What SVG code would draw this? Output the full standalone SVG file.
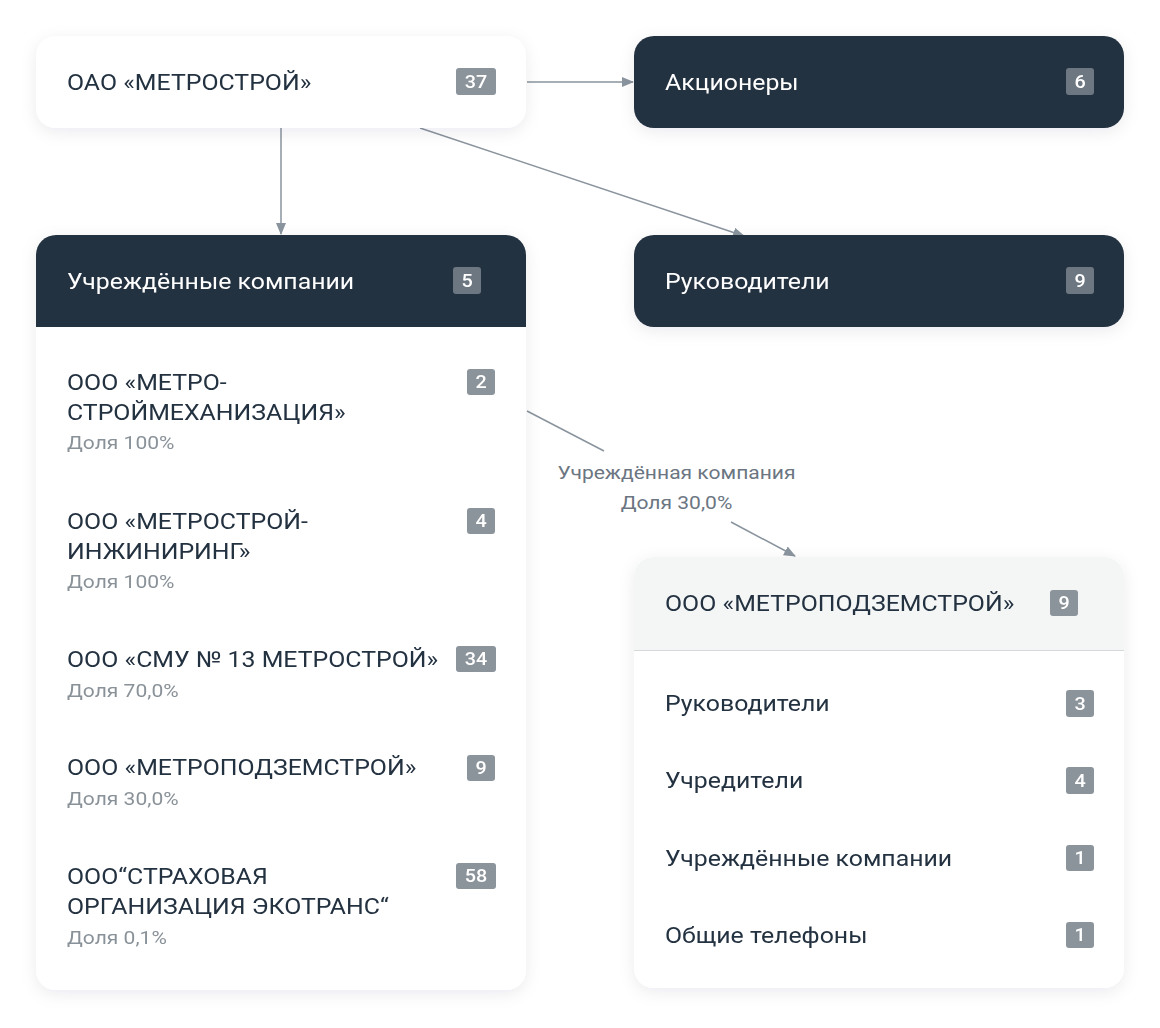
<svg xmlns="http://www.w3.org/2000/svg" width="1160" height="1028" viewBox="0 0 1160 1028">
<defs>
<filter id="sh" x="-10%" y="-10%" width="120%" height="130%">
<feDropShadow dx="0" dy="4" stdDeviation="8" flood-color="#1c2a3a" flood-opacity="0.08"/>
</filter>
<marker id="ar" markerWidth="12" markerHeight="10" refX="11" refY="5" orient="auto" markerUnits="userSpaceOnUse">
<path d="M0,0 L12,5 L0,10 z" fill="#8a949e"/>
</marker>
<clipPath id="c1"><rect x="36" y="235" width="490" height="755" rx="20"/></clipPath>
<clipPath id="c2"><rect x="634" y="557" width="490" height="431" rx="20"/></clipPath>
</defs>
<style>
text{font-family:Roboto,"Noto Sans",sans-serif}
.t{font-size:22px;fill:#243140}
.tw{font-size:22px;fill:#ffffff}
.s{font-size:18px;fill:#8a9299}
.bg{fill:#8b939b}
.bd{fill:#6d7781}
.bt{font-size:18px;fill:#ffffff;font-weight:500;text-anchor:middle}
.ln{stroke:#8a949e;stroke-width:1.5;fill:none}
.lb{font-size:18px;fill:#6b7682;text-anchor:middle}
</style>
<rect width="1160" height="1028" fill="#ffffff"/>
<g id="connectors">
<line class="ln" x1="527" y1="82" x2="633" y2="82" marker-end="url(#ar)"/>
<line class="ln" x1="281" y1="128" x2="281" y2="234" marker-end="url(#ar)"/>
<line class="ln" x1="420" y1="128" x2="744" y2="236" marker-end="url(#ar)"/>
<line class="ln" x1="527" y1="411" x2="604" y2="451"/>
<line class="ln" x1="731" y1="522" x2="795" y2="556" marker-end="url(#ar)"/>
<text class="lb" transform="matrix(1.17 0 0 1 676.5 479)">Учреждённая компания</text>
<text class="lb" transform="matrix(1.17 0 0 1 676.5 509)">Доля 30,0%</text>
</g>
<g id="n-metrostroy" filter="url(#sh)">
<rect x="36" y="36" width="490" height="92" rx="20" fill="#ffffff"/>
<text class="t" transform="matrix(1.13 0 0 1 67 90)">ОАО «МЕТРОСТРОЙ»</text>
<rect class="bg" x="456" y="68" width="40" height="27" rx="3"/>
<text class="bt" transform="matrix(1.1 0 0 1 476 88)">37</text>
</g>
<g id="n-akcionery" filter="url(#sh)">
<rect x="634" y="36" width="490" height="92" rx="20" fill="#243140"/>
<text class="tw" transform="matrix(1.13 0 0 1 665 90)">Акционеры</text>
<rect class="bd" x="1066" y="68" width="28" height="27" rx="3"/>
<text class="bt" transform="matrix(1.1 0 0 1 1080 88)">6</text>
</g>
<g id="n-rukovoditeli" filter="url(#sh)">
<rect x="634" y="235" width="490" height="92" rx="20" fill="#243140"/>
<text class="tw" transform="matrix(1.13 0 0 1 665 289)">Руководители</text>
<rect class="bd" x="1066" y="267" width="28" height="27" rx="3"/>
<text class="bt" transform="matrix(1.1 0 0 1 1080 287)">9</text>
</g>
<g id="n-uchrezhdennye" filter="url(#sh)">
<rect x="36" y="235" width="490" height="755" rx="20" fill="#ffffff"/>
<rect x="36" y="235" width="490" height="92" fill="#243140" clip-path="url(#c1)"/>
<text class="tw" transform="matrix(1.13 0 0 1 67 289)">Учреждённые компании</text>
<rect class="bd" x="453" y="267" width="28" height="27" rx="3"/>
<text class="bt" transform="matrix(1.1 0 0 1 467 287)">5</text>
<text class="t" transform="matrix(1.13 0 0 1 67 390)">ООО «МЕТРО-</text>
<text class="t" transform="matrix(1.13 0 0 1 67 420)">СТРОЙМЕХАНИЗАЦИЯ»</text>
<text class="s" transform="matrix(1.17 0 0 1 67 449)">Доля 100%</text>
<rect class="bg" x="467" y="369" width="28" height="26" rx="3"/>
<text class="bt" transform="matrix(1.1 0 0 1 481 388)">2</text>
<text class="t" transform="matrix(1.13 0 0 1 67 529)">ООО «МЕТРОСТРОЙ-</text>
<text class="t" transform="matrix(1.13 0 0 1 67 559)">ИНЖИНИРИНГ»</text>
<text class="s" transform="matrix(1.17 0 0 1 67 588)">Доля 100%</text>
<rect class="bg" x="467" y="508" width="28" height="26" rx="3"/>
<text class="bt" transform="matrix(1.1 0 0 1 481 527)">4</text>
<text class="t" transform="matrix(1.13 0 0 1 67 667)">ООО «СМУ № 13 МЕТРОСТРОЙ»</text>
<text class="s" transform="matrix(1.17 0 0 1 67 697)">Доля 70,0%</text>
<rect class="bg" x="456" y="646" width="40" height="26" rx="3"/>
<text class="bt" transform="matrix(1.1 0 0 1 476 665)">34</text>
<text class="t" transform="matrix(1.13 0 0 1 67 775)">ООО «МЕТРОПОДЗЕМСТРОЙ»</text>
<text class="s" transform="matrix(1.17 0 0 1 67 805)">Доля 30,0%</text>
<rect class="bg" x="467" y="755" width="28" height="26" rx="3"/>
<text class="bt" transform="matrix(1.1 0 0 1 481 774)">9</text>
<text class="t" transform="matrix(1.13 0 0 1 67 884)">ООО“СТРАХОВАЯ</text>
<text class="t" transform="matrix(1.13 0 0 1 67 914)">ОРГАНИЗАЦИЯ ЭКОТРАНС“</text>
<text class="s" transform="matrix(1.17 0 0 1 67 944)">Доля 0,1%</text>
<rect class="bg" x="456" y="863" width="40" height="26" rx="3"/>
<text class="bt" transform="matrix(1.1 0 0 1 476 882)">58</text>
</g>
<g id="n-metropodzemstroy" filter="url(#sh)">
<rect x="634" y="557" width="490" height="431" rx="20" fill="#ffffff"/>
<rect x="634" y="557" width="490" height="93" fill="#f4f6f6" clip-path="url(#c2)"/>
<line x1="634" y1="650.5" x2="1124" y2="650.5" stroke="#d5d9dc" stroke-width="1"/>
<text class="t" transform="matrix(1.13 0 0 1 665 611)">ООО «МЕТРОПОДЗЕМСТРОЙ»</text>
<rect class="bg" x="1050" y="590" width="28" height="26" rx="3"/>
<text class="bt" transform="matrix(1.1 0 0 1 1064 609)">9</text>
<text class="t" transform="matrix(1.13 0 0 1 665 711)">Руководители</text>
<rect class="bg" x="1066" y="690" width="28" height="27" rx="3"/>
<text class="bt" transform="matrix(1.1 0 0 1 1080 710)">3</text>
<text class="t" transform="matrix(1.13 0 0 1 665 788)">Учредители</text>
<rect class="bg" x="1066" y="767" width="28" height="27" rx="3"/>
<text class="bt" transform="matrix(1.1 0 0 1 1080 787)">4</text>
<text class="t" transform="matrix(1.13 0 0 1 665 866)">Учреждённые компании</text>
<rect class="bg" x="1066" y="845" width="28" height="26" rx="3"/>
<text class="bt" transform="matrix(1.1 0 0 1 1080 864)">1</text>
<text class="t" transform="matrix(1.13 0 0 1 665 943)">Общие телефоны</text>
<rect class="bg" x="1066" y="922" width="28" height="26" rx="3"/>
<text class="bt" transform="matrix(1.1 0 0 1 1080 941)">1</text>
</g>
</svg>
